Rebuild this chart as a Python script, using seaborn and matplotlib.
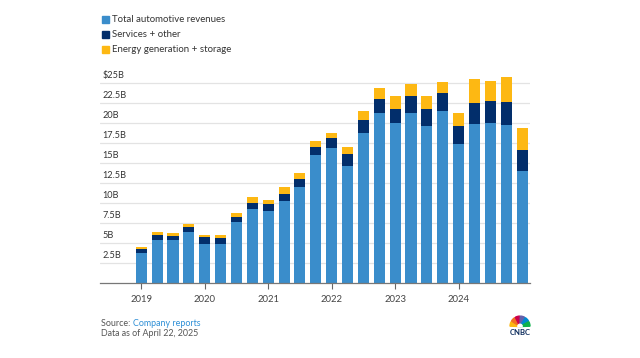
import matplotlib
matplotlib.use("Agg")
import matplotlib.pyplot as plt
import seaborn as sns
import pandas as pd
import numpy as np
from matplotlib.patches import Wedge, Rectangle

quarters = ["Q1 2019", "Q2 2019", "Q3 2019", "Q4 2019",
            "Q1 2020", "Q2 2020", "Q3 2020", "Q4 2020",
            "Q1 2021", "Q2 2021", "Q3 2021", "Q4 2021",
            "Q1 2022", "Q2 2022", "Q3 2022", "Q4 2022",
            "Q1 2023", "Q2 2023", "Q3 2023", "Q4 2023",
            "Q1 2024", "Q2 2024", "Q3 2024", "Q4 2024",
            "Q1 2025"]
automotive = [3.72, 5.38, 5.35, 6.37, 4.89, 4.91, 7.61, 9.31,
              9.00, 10.21, 12.06, 15.97, 16.86, 14.60, 18.69, 21.31,
              19.96, 21.27, 19.63, 21.56, 17.38, 19.88, 20.02, 19.80,
              13.97]
services = [0.49, 0.61, 0.55, 0.58, 0.80, 0.76, 0.58, 0.68,
            0.89, 0.95, 0.89, 1.06, 1.28, 1.47, 1.65, 1.70,
            1.84, 2.15, 2.17, 2.17, 2.29, 2.61, 2.79, 2.85,
            2.64]
energy = [0.32, 0.37, 0.40, 0.44, 0.29, 0.37, 0.58, 0.75,
          0.49, 0.80, 0.81, 0.69, 0.62, 0.87, 1.12, 1.31,
          1.53, 1.51, 1.56, 1.44, 1.64, 3.01, 2.38, 3.06,
          2.73]
series_names = ["Total automotive revenues", "Services + other",
                "Energy generation + storage"]
year_labels = ["2019", "2020", "2021", "2022", "2023", "2024"]
y_ticks = [2.5, 5, 7.5, 10, 12.5, 15, 17.5, 20, 22.5, 25]
y_tick_labels = ["2.5B", "5B", "7.5B", "10B", "12.5B", "15B", "17.5B",
                 "20B", "22.5B", "$25B"]

colors = ["#3A8DCB", "#022E6B", "#FDB813"]

sns.set_style("white")
plt.rcParams["font.family"] = ["Lato", "DejaVu Sans"]

df = pd.DataFrame({"quarter": quarters, "auto": automotive,
                   "services": services, "energy": energy})
df["s2"] = df["auto"] + df["services"]
df["s3"] = df["s2"] + df["energy"]

fig = plt.figure(figsize=(6.4, 3.58), dpi=100)
ax = fig.add_axes([100 / 640, 1 - 283 / 358, 430 / 640, (283 - 75) / 358])

for col, c in zip(["s3", "s2", "auto"], colors[::-1]):
    sns.barplot(data=df, x="quarter", y=col, color=c, width=0.7,
                saturation=1, ax=ax, linewidth=0)

ax.set_xlim(-2.6, 24.5)
ax.set_ylim(0, 26)
ax.set_xlabel("")
ax.set_ylabel("")
ax.set_yticks([])
ax.set_xticks([0, 4, 8, 12, 16, 20])
ax.set_xticklabels(year_labels, fontsize=6.8, color="#444444")
ax.tick_params(axis="x", length=4, width=0.8, color="#666666", pad=5,
               direction="out", bottom=True)
for s in ["top", "right", "left"]:
    ax.spines[s].set_visible(False)
ax.spines["bottom"].set_color("#777777")
ax.spines["bottom"].set_linewidth(0.9)

for v, lab in zip(y_ticks, y_tick_labels):
    ax.axhline(v, color="#E3E3E3", lw=0.9, zorder=0)
    ax.text(-2.45, v + 0.35, lab, fontsize=6.6, color="#333333",
            ha="left", va="bottom", zorder=1)

# Legend
for i, (name, c) in enumerate(zip(series_names, colors)):
    y = 19.5 + 15 * i
    fig.patches.append(Rectangle((102 / 640, 1 - (y + 3.5) / 358), 7 / 640, 7 / 358,
                                 transform=fig.transFigure, color=c, figure=fig))
    fig.text(112 / 640, 1 - y / 358, name, fontsize=6.9, color="#333333",
             va="center", ha="left")

# Footer
t = fig.text(101 / 640, 1 - 323 / 358, "Source: ", fontsize=6.4, color="#555555",
             va="center", ha="left")
fig.canvas.draw()
bb = t.get_window_extent()
fig.text(bb.x1 / 640, 1 - 323 / 358, "Company reports", fontsize=6.4,
         color="#2E8FD6", va="center", ha="left")
fig.text(101 / 640, 1 - 334 / 358, "Data as of April 22, 2025", fontsize=6.4,
         color="#555555", va="center", ha="left")

# CNBC logo (approximate)
lax = fig.add_axes([505 / 640, 1 - 337 / 358, 30 / 640, 23 / 358])
lax.set_xlim(-15, 15)
lax.set_ylim(-11, 11)
lax.axis("off")
feather_cols = ["#FCB711", "#F37021", "#CC004C", "#6460AA", "#0089D0", "#0DB14B"]
for k, fc in enumerate(feather_cols):
    a0 = 180 - k * 30
    lax.add_patch(Wedge((0, -1), 10, a0 - 28, a0 - 2, color=fc))
lax.add_patch(Wedge((0, -1), 2.2, 0, 180, color="white"))
lax.text(0, -7, "CNBC", fontsize=5.5, fontweight="bold", color="#0B2A5B",
         ha="center", va="center")

fig.savefig("out.png", dpi=100, facecolor="white")
